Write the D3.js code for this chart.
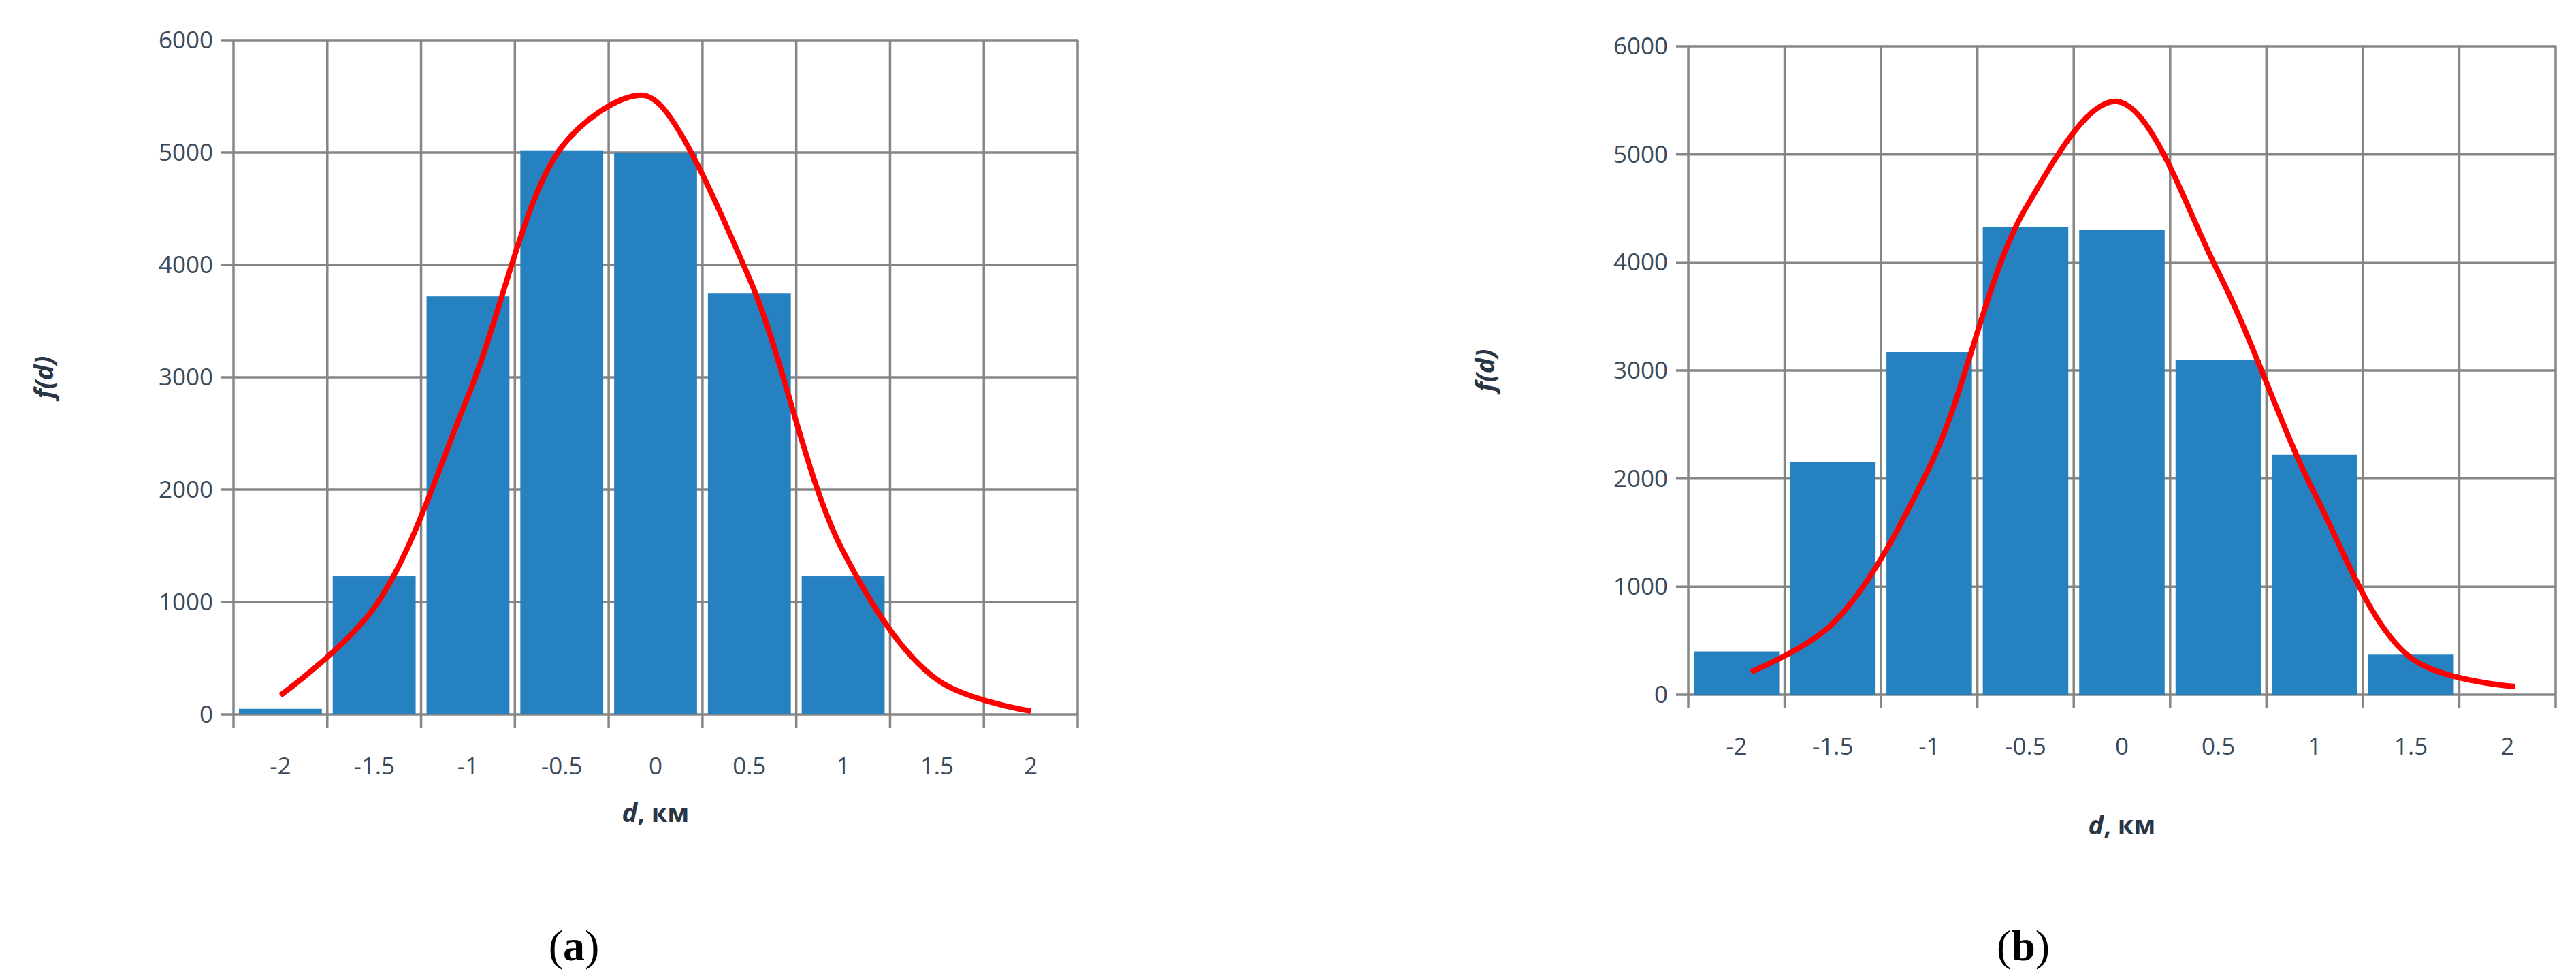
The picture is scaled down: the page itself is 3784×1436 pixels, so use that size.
<!DOCTYPE html>
<html><head><meta charset="utf-8">
<script src="https://cdn.jsdelivr.net/npm/d3@7"></script>
<style>body{margin:0;background:#fff}</style></head>
<body><div id="chart"></div>
<script>
const categories = ["-2", "-1.5", "-1", "-0.5", "0", "0.5", "1", "1.5", "2"];
const yTicks = [0, 1000, 2000, 3000, 4000, 5000, 6000];

const barsA = [50, 1230, 3720, 5020, 5000, 3750, 1230, 0, 0];
const curveXA = [0, 1, 2, 3, 3.75, 4, 5, 6, 7, 8];
const curveYA = [170, 950, 2830, 5050, 5500, 5460, 3880, 1450, 310, 30];

const barsB = [400, 2150, 3170, 4330, 4300, 3100, 2220, 370, 0];
const curveXB = [0.15, 1, 2, 3, 3.95, 5, 6, 7, 8.08];
const curveYB = [210, 660, 2100, 4500, 5490, 3910, 1860, 340, 76];

const svg = d3.select("#chart").append("svg").attr("width", 3784).attr("height", 1436);

function drawPanel(box, bars, cx, cy, label) {
  const x = d3.scaleBand().domain(categories).range([box.left, box.right]);
  const y = d3.scaleLinear().domain([0, 6000]).range([box.bottom, box.top]);
  const g = svg.append("g");
  const pos = (i) => box.left + i * x.step() + x.step() / 2;

  // grid
  g.selectAll(".hg").data(yTicks).join("line")
    .attr("x1", box.left - 18).attr("x2", box.right)
    .attr("y1", d => y(d)).attr("y2", d => y(d))
    .attr("stroke", "#868686").attr("stroke-width", 3.5);
  const edges = d3.range(categories.length + 1);
  g.selectAll(".vg").data(edges).join("line")
    .attr("x1", i => box.left + i * x.step()).attr("x2", i => box.left + i * x.step())
    .attr("y1", box.top).attr("y2", box.bottom + 20)
    .attr("stroke", "#868686").attr("stroke-width", 3.5);

  // bars
  g.selectAll("rect").data(bars).join("rect")
    .attr("x", (d, i) => x(categories[i]) + 8)
    .attr("width", x.bandwidth() - 16)
    .attr("y", d => y(d)).attr("height", d => box.bottom - y(d))
    .attr("fill", "#2681c1");

  // curve
  const pts = cx.map((v, i) => [pos(v), y(cy[i])]);
  g.append("path").attr("d", d3.line().curve(d3.curveCatmullRom)(pts))
    .attr("fill", "none").attr("stroke", "#ff0000").attr("stroke-width", 8);

  // labels
  g.selectAll(".yl").data(yTicks).join("text")
    .attr("x", box.left - 30).attr("y", d => y(d) + 12)
    .attr("text-anchor", "end").attr("font-family", "Open Sans").attr("font-size", 35)
    .attr("fill", "#3a4a5a").text(d => d);
  g.selectAll(".xl").data(categories).join("text")
    .attr("x", (d, i) => pos(i)).attr("y", box.bottom + 88)
    .attr("text-anchor", "middle").attr("font-family", "Open Sans").attr("font-size", 35)
    .attr("fill", "#3a4a5a").text(d => d);
  const xt = g.append("text").attr("x", (box.left + box.right) / 2).attr("y", box.xTitleY)
    .attr("text-anchor", "middle").attr("font-family", "Open Sans").attr("font-size", 38)
    .attr("font-weight", "bold").attr("fill", "#2a3545");
  xt.append("tspan").attr("font-style", "italic").text("d");
  xt.append("tspan").text(", км");
  const yt = g.append("text").attr("transform", `translate(${box.yTitleX},${(box.top + box.bottom) / 2}) rotate(-90)`)
    .attr("text-anchor", "middle").attr("font-family", "Open Sans").attr("font-size", 38)
    .attr("font-weight", "bold").attr("font-style", "italic").attr("fill", "#2a3545");
  yt.text("f(d)");
  const cap = svg.append("text").attr("x", box.capX).attr("y", 1410).attr("text-anchor", "middle")
    .attr("font-family", "Liberation Serif").attr("font-size", 64).attr("fill", "#000");
  cap.append("tspan").text("(");
  cap.append("tspan").attr("font-weight", "bold").text(label);
  cap.append("tspan").text(")");
}

drawPanel({ left: 343, right: 1583, top: 59, bottom: 1049, xTitleY: 1207, yTitleX: 78, capX: 843 }, barsA, curveXA, curveYA, "a");
drawPanel({ left: 2480, right: 3754, top: 68, bottom: 1020, xTitleY: 1225, yTitleX: 2195, capX: 2972 }, barsB, curveXB, curveYB, "b");
</script></body></html>
